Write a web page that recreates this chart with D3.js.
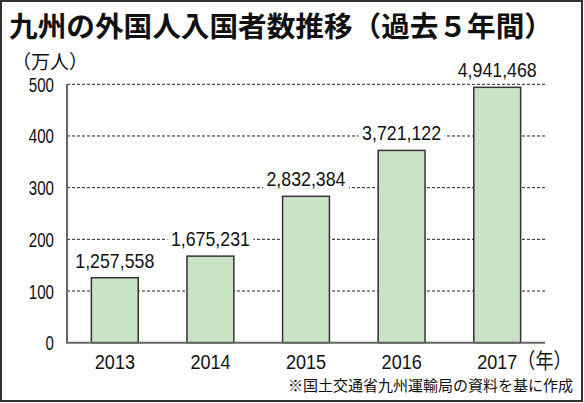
<!DOCTYPE html>
<html>
<head>
<meta charset="utf-8">
<script src="https://cdn.jsdelivr.net/npm/d3@7"></script>
<style>
  body { margin: 0; background: #fff; }
  text { fill: #111; }
</style>
</head>
<body>
<div id="chart"></div>
<script>
// data
const years = ["2013", "2014", "2015", "2016", "2017"];
const visitors = [1257558, 1675231, 2832384, 3721122, 4941468];
const yTicks = [0, 100, 200, 300, 400, 500];

const width = 584, height = 403;
const numFont = "'Liberation Sans', Arial, sans-serif";
const jpFont = "'Noto Sans CJK JP', sans-serif";

const svg = d3.select("#chart")
  .append("svg")
  .attr("width", width)
  .attr("height", height);

// outer frame
svg.append("rect")
  .attr("x", 1).attr("y", 1)
  .attr("width", width - 3).attr("height", height - 3)
  .attr("fill", "#fff")
  .attr("stroke", "#333")
  .attr("stroke-width", 2);

// title
svg.append("text")
  .attr("x", 9).attr("y", 37)
  .attr("font-family", jpFont)
  .attr("font-weight", 700)
  .attr("font-size", 28)
  .attr("textLength", 544)
  .attr("lengthAdjust", "spacingAndGlyphs")
  .text("九州の外国人入国者数推移（過去５年間）");

svg.append("text")
  .attr("x", 12).attr("y", 69)
  .attr("font-family", jpFont)
  .attr("font-size", 19)
  .text("（万人）");

const x0 = 67, x1 = 545, yTop = 84.3, yBottom = 342.7;

const x = d3.scaleBand()
  .domain(years)
  .range([x0, x1])
  .paddingInner(0.51)
  .paddingOuter(0.255);

const y = d3.scaleLinear()
  .domain([0, 500])
  .range([yBottom, yTop]);

// gridlines
svg.append("g")
  .selectAll("line")
  .data(yTicks.filter(d => d > 0))
  .enter().append("line")
  .attr("x1", x0).attr("x2", x1)
  .attr("y1", d => y(d)).attr("y2", d => y(d))
  .attr("stroke", "#222")
  .attr("stroke-width", 1)
  .attr("stroke-dasharray", "3,2");

// y tick labels (narrowed to match the condensed face)
svg.append("g")
  .selectAll("text")
  .data(yTicks)
  .enter().append("text")
  .attr("x", 54)
  .attr("y", d => y(d) + 7.5)
  .attr("text-anchor", "end")
  .attr("font-family", numFont)
  .attr("font-size", 20)
  .attr("textLength", d => String(d).length * 8.4)
  .attr("lengthAdjust", "spacingAndGlyphs")
  .text(d => d);

// bars
svg.append("g")
  .selectAll("rect")
  .data(visitors)
  .enter().append("rect")
  .attr("x", (d, i) => x(years[i]))
  .attr("y", d => y(d / 10000))
  .attr("width", x.bandwidth())
  .attr("height", d => yBottom - y(d / 10000))
  .attr("fill", "#c9e4c5")
  .attr("stroke", "#333")
  .attr("stroke-width", 1.5);

// axes lines
svg.append("line")
  .attr("x1", x0).attr("x2", x0)
  .attr("y1", yTop).attr("y2", yBottom)
  .attr("stroke", "#666").attr("stroke-width", 2);
svg.append("line")
  .attr("x1", x0 - 1).attr("x2", x1)
  .attr("y1", yBottom).attr("y2", yBottom)
  .attr("stroke", "#666").attr("stroke-width", 2);

// value labels with white backing
const fmt = d3.format(",");
const labels = svg.append("g")
  .selectAll("g")
  .data(visitors)
  .enter().append("g")
  .attr("transform", (d, i) => `translate(${x(years[i]) + x.bandwidth() / 2},${y(d / 10000) - 10})`);

labels.append("rect")
  .attr("x", -43).attr("y", -17)
  .attr("width", 86).attr("height", 19)
  .attr("fill", "#fff");

labels.append("text")
  .attr("text-anchor", "middle")
  .attr("font-family", numFont)
  .attr("font-size", 21)
  .attr("textLength", 79)
  .attr("lengthAdjust", "spacingAndGlyphs")
  .text(d => fmt(d));

// x labels: condensed by a horizontal scale; last one carries the unit
const xLabels = svg.append("g")
  .selectAll("g")
  .data(years)
  .enter().append("g")
  .attr("transform", d => `translate(${x(d) + x.bandwidth() / 2 - 20},369) scale(0.86,1)`);

const xText = xLabels.append("text")
  .attr("font-family", numFont)
  .attr("font-size", 21)
  .text(d => d);

xText.filter((d, i) => i === years.length - 1)
  .append("tspan")
  .attr("font-family", jpFont)
  .attr("font-size", 21)
  .attr("dy", -1)
  .text("（年）");

// source note
svg.append("text")
  .attr("x", 573).attr("y", 391)
  .attr("text-anchor", "end")
  .attr("font-family", jpFont)
  .attr("font-size", 15)
  .text("※国土交通省九州運輸局の資料を基に作成");
</script>
</body>
</html>
